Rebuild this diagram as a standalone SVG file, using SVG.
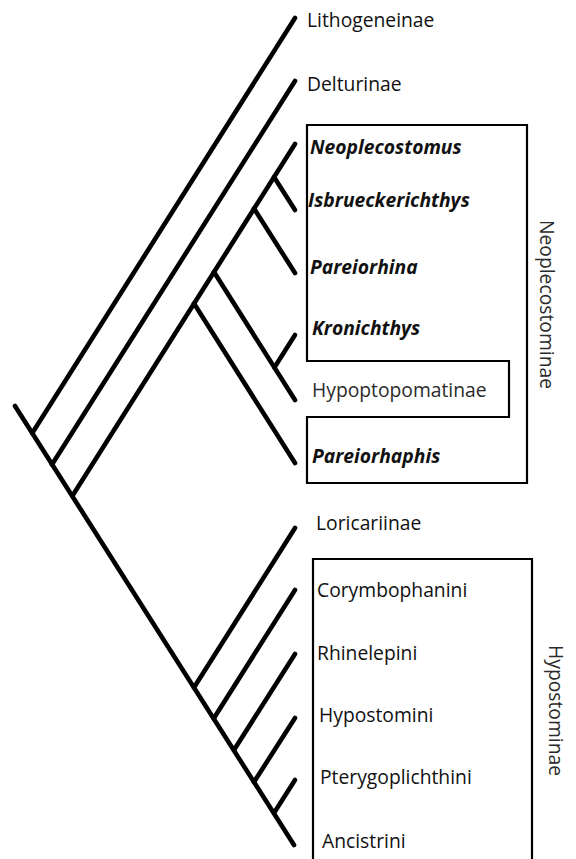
<svg xmlns="http://www.w3.org/2000/svg" width="576" height="859" viewBox="0 0 576 859">
<style>
.br{stroke:#000;stroke-width:4.6;stroke-linecap:round;fill:none}
.box{stroke:#000;stroke-width:2.2;fill:none}
.t{font-family:"Open Sans","Liberation Sans",sans-serif;font-size:19.3px;fill:#111}
.bi{font-weight:bold;font-style:italic}
.lt{fill:#2a2a2a}
</style>
<rect width="576" height="859" fill="#fff"/>
<g id="connectors">
<line class="br" x1="15" y1="406" x2="294" y2="845"/>
<line class="br" x1="32.3" y1="433" x2="295" y2="18"/>
<line class="br" x1="52" y1="464.5" x2="295" y2="81"/>
<line class="br" x1="72.3" y1="496" x2="295" y2="144"/>
<line class="br" x1="274" y1="177" x2="295" y2="210"/>
<line class="br" x1="254" y1="208.5" x2="295" y2="273"/>
<line class="br" x1="214" y1="272" x2="295" y2="400"/>
<line class="br" x1="274.4" y1="367.5" x2="295" y2="335"/>
<line class="br" x1="194" y1="303.5" x2="295" y2="463"/>
<line class="br" x1="194" y1="687.5" x2="295" y2="528"/>
<line class="br" x1="213.7" y1="718.5" x2="295" y2="590"/>
<line class="br" x1="234" y1="750" x2="295" y2="654"/>
<line class="br" x1="254" y1="782" x2="295" y2="718"/>
<line class="br" x1="274" y1="813" x2="295" y2="780"/>
</g>
<g id="neoplecostominae-box">
<path class="box" d="M307,125 H527 V483 H307 V417 H509 V361 H307 Z"/>
<text class="t lt" transform="translate(540,220) rotate(90)">Neoplecostominae</text>
</g>
<g id="hypostominae-box">
<path class="box" d="M313,870 V559 H532 V870"/>
<text class="t lt" transform="translate(549,645) rotate(90)">Hypostominae</text>
</g>
<g id="lithogeneinae"><text class="t" x="307" y="27">Lithogeneinae</text></g>
<g id="delturinae"><text class="t" x="307" y="91">Delturinae</text></g>
<g id="neoplecostomus"><text class="t bi" x="310" y="154">Neoplecostomus</text></g>
<g id="isbrueckerichthys"><text class="t bi" x="308" y="207">Isbrueckerichthys</text></g>
<g id="pareiorhina"><text class="t bi" x="310" y="274">Pareiorhina</text></g>
<g id="kronichthys"><text class="t bi" x="312" y="335">Kronichthys</text></g>
<g id="hypoptopomatinae"><text class="t lt" x="312" y="397">Hypoptopomatinae</text></g>
<g id="pareiorhaphis"><text class="t bi" x="312" y="463">Pareiorhaphis</text></g>
<g id="loricariinae"><text class="t" x="316" y="530">Loricariinae</text></g>
<g id="corymbophanini"><text class="t" x="317" y="597">Corymbophanini</text></g>
<g id="rhinelepini"><text class="t" x="317" y="660">Rhinelepini</text></g>
<g id="hypostomini"><text class="t" x="319" y="722">Hypostomini</text></g>
<g id="pterygoplichthini"><text class="t" x="320" y="784">Pterygoplichthini</text></g>
<g id="ancistrini"><text class="t" x="322" y="848">Ancistrini</text></g>
</svg>
